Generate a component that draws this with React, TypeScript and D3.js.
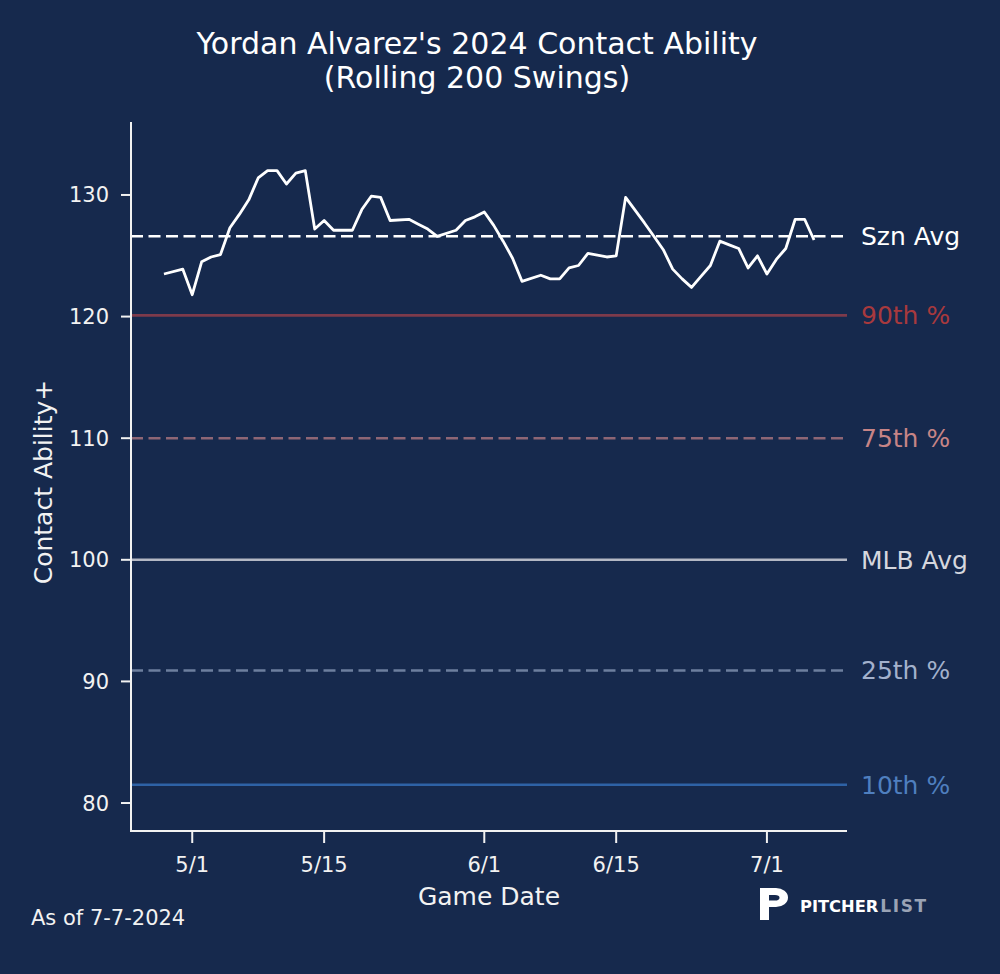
import React from 'react';
import * as d3 from 'd3';

// ---- data ----
const gameDates: string[] = [
  '2024-04-28', '2024-04-30', '2024-05-01', '2024-05-02', '2024-05-03', '2024-05-04',
  '2024-05-05', '2024-05-06', '2024-05-07', '2024-05-08', '2024-05-09', '2024-05-10',
  '2024-05-11', '2024-05-12', '2024-05-13', '2024-05-14', '2024-05-15', '2024-05-16',
  '2024-05-18', '2024-05-19', '2024-05-20', '2024-05-21', '2024-05-22', '2024-05-24',
  '2024-05-25', '2024-05-26', '2024-05-27', '2024-05-29', '2024-05-30', '2024-05-31',
  '2024-06-01', '2024-06-02', '2024-06-03', '2024-06-04', '2024-06-05', '2024-06-07',
  '2024-06-08', '2024-06-09', '2024-06-10', '2024-06-11', '2024-06-12', '2024-06-14',
  '2024-06-15', '2024-06-16', '2024-06-18', '2024-06-19', '2024-06-20', '2024-06-21',
  '2024-06-22', '2024-06-23', '2024-06-24', '2024-06-25', '2024-06-26', '2024-06-27',
  '2024-06-28', '2024-06-29', '2024-06-30', '2024-07-01', '2024-07-02', '2024-07-03',
  '2024-07-04', '2024-07-05', '2024-07-06',
];
const contactAbility: number[] = [
  123.5, 123.9, 121.8, 124.5, 124.9, 125.1,
  127.3, 128.4, 129.6, 131.4, 132.0, 132.0,
  130.9, 131.8, 132.0, 127.2, 127.9, 127.1,
  127.1, 128.8, 129.9, 129.8, 127.9, 128.0,
  127.6, 127.2, 126.6, 127.1, 127.9, 128.2,
  128.6, 127.5, 126.2, 124.8, 122.9, 123.4,
  123.1, 123.1, 124.0, 124.2, 125.2, 124.9,
  125.0, 129.8, 127.7, 126.6, 125.5, 123.9,
  123.1, 122.4, 123.3, 124.2, 126.2, 125.9,
  125.6, 124.0, 125.0, 123.5, 124.7, 125.6,
  128.0, 128.0, 126.3,
];

const refLabels: string[] = ['Szn Avg', '90th %', '75th %', 'MLB Avg', '25th %', '10th %'];
const refValues: number[] = [126.6, 120.1, 110.0, 100.0, 90.9, 81.5];

const yTicks: number[] = [80, 90, 100, 110, 120, 130];
const xTickDates: string[] = ['2024-05-01', '2024-05-15', '2024-06-01', '2024-06-15', '2024-07-01'];
const xTickLabels: string[] = ['5/1', '5/15', '6/1', '6/15', '7/1'];

const titleLines: string[] = ["Yordan Alvarez's 2024 Contact Ability", '(Rolling 200 Swings)'];

// ---- styles ----
const BG = '#16294d';
const FONT = '"DejaVu Sans", Verdana, sans-serif';
const refLineColors = ['#ffffff', '#7d3a4b', '#8e6675', '#b4b8c4', '#6d7f9e', '#2e62a6'];
const refTextColors = ['#ffffff', '#a8393d', '#c78486', '#d5d7de', '#a3b1cc', '#4f7fbf'];
const refDashed = [true, false, true, false, true, false];

const parse = (s: string) => {
  const [y, m, d] = s.split('-').map(Number);
  return new Date(Date.UTC(y, m - 1, d));
};

export default function App() {
  const W = 1000;
  const H = 974;
  const left = 131, right = 847, top = 122, bottom = 831;

  const x = d3.scaleUtc()
    .domain([new Date(Date.UTC(2024, 3, 24, 12)), new Date(Date.UTC(2024, 6, 9, 12))])
    .range([left, right]);
  const y = d3.scaleLinear().domain([77.7, 136]).range([bottom, top]);

  const pts = gameDates.map((d, i) => ({ d: parse(d), v: contactAbility[i] }));
  const line = d3.line<{ d: Date; v: number }>().x(p => x(p.d)).y(p => y(p.v));

  return (
    <svg width={W} height={H} style={{ position: 'absolute', left: 0, top: 0, display: 'block' }}
      fontFamily={FONT}>
      <rect x={0} y={0} width={W} height={H} fill={BG} />

      {/* title */}
      {titleLines.map((t, i) => (
        <text key={t} x={477} y={54 + i * 33.5} textAnchor="middle" fill="#ffffff" fontSize={30}>{t}</text>
      ))}

      {/* reference lines */}
      {refValues.map((v, i) => (
        <g key={refLabels[i]}>
          <line x1={left} x2={right} y1={y(v)} y2={y(v)}
            stroke={refLineColors[i]} strokeWidth={2.6}
            strokeDasharray={refDashed[i] ? '12 5.5' : undefined} />
          <text x={861} y={y(v) + 9} fill={refTextColors[i]} fontSize={25}>{refLabels[i]}</text>
        </g>
      ))}

      {/* data line */}
      <path d={line(pts) || ''} fill="none" stroke="#ffffff" strokeWidth={2.8} strokeLinejoin="round" />

      {/* spines */}
      <line x1={left} x2={left} y1={top} y2={bottom + 1} stroke="#f2f2f2" strokeWidth={2} />
      <line x1={left - 1} x2={right} y1={bottom} y2={bottom} stroke="#f2f2f2" strokeWidth={2} />

      {/* y ticks */}
      {yTicks.map(t => (
        <g key={t}>
          <line x1={left - 10} x2={left} y1={y(t)} y2={y(t)} stroke="#f2f2f2" strokeWidth={2} />
          <text x={left - 22} y={y(t) + 7.5} textAnchor="end" fill="#f2f2f2" fontSize={21}>{t}</text>
        </g>
      ))}

      {/* x ticks */}
      {xTickDates.map((d, i) => (
        <g key={d}>
          <line x1={x(parse(d))} x2={x(parse(d))} y1={bottom} y2={bottom + 12} stroke="#f2f2f2" strokeWidth={2} />
          <text x={x(parse(d))} y={872} textAnchor="middle" fill="#f2f2f2" fontSize={21}>{xTickLabels[i]}</text>
        </g>
      ))}

      {/* axis labels */}
      <text x={489} y={905} textAnchor="middle" fill="#f2f2f2" fontSize={25}>Game Date</text>
      <text transform="translate(52,482) rotate(-90)" textAnchor="middle" fill="#f2f2f2" fontSize={25}>Contact Ability+</text>

      {/* footer */}
      <text x={31} y={925} fill="#f2f2f2" fontSize={21}>As of 7-7-2024</text>

      {/* logo */}
      <path fillRule="evenodd" fill="#ffffff"
        d="M760,888 H776 A12,9.5 0 0 1 776,907 H769 V920 H760 Z M769,895 H775 A4.5,2.8 0 0 1 775,900.6 H769 Z" />
      <text x={800} y={912} fontWeight="bold">
        <tspan fill="#ffffff" fontSize={16.3}>PITCHER</tspan>
        <tspan fill="#9aa3b5" fontSize={17} dx={2} letterSpacing={1.6}>LIST</tspan>
      </text>
    </svg>
  );
}
